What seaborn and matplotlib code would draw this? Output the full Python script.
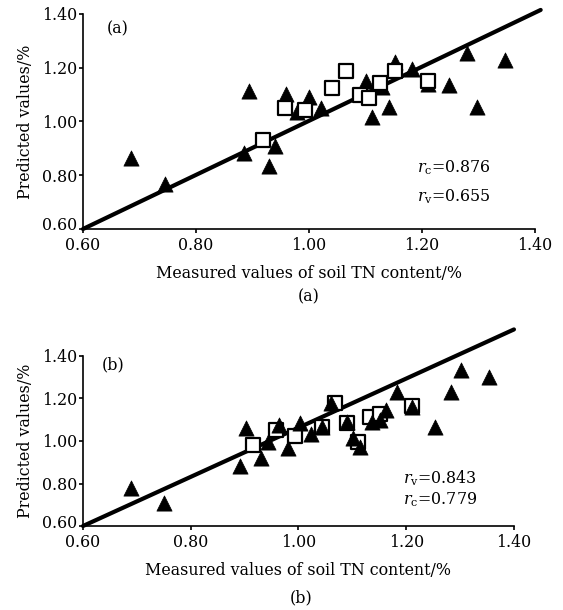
import matplotlib
matplotlib.use("Agg")
import matplotlib.pyplot as plt
import matplotlib.transforms as mtransforms
import seaborn as sns
import pandas as pd

# ---- data: panel (a) ----
a_cal_x = [0.685, 0.745, 0.885, 0.893, 0.93, 0.94, 0.96, 0.978, 1.0, 1.022, 1.10, 1.112,
           1.13, 1.142, 1.153, 1.182, 1.21, 1.248, 1.279, 1.298, 1.347]
a_cal_y = [0.863, 0.768, 0.884, 1.113, 0.833, 0.907, 1.103, 1.036, 1.092, 1.052, 1.15, 1.018,
           1.13, 1.055, 1.22, 1.195, 1.14, 1.136, 1.254, 1.055, 1.229]
a_val_x = [0.919, 0.957, 0.993, 1.041, 1.065, 1.09, 1.107, 1.126, 1.152, 1.21]
a_val_y = [0.931, 1.049, 1.043, 1.124, 1.189, 1.099, 1.086, 1.142, 1.189, 1.152]
a_line_x = [0.60, 1.41]
a_line_y = [0.60, 1.415]

# ---- data: panel (b) ----
b_cal_x = [0.69, 0.751, 0.891, 0.902, 0.931, 0.944, 0.964, 0.981, 1.003, 1.023, 1.043, 1.06,
           1.091, 1.101, 1.114, 1.136, 1.151, 1.163, 1.182, 1.211, 1.254, 1.283, 1.301, 1.354]
b_cal_y = [0.777, 0.707, 0.882, 1.06, 0.918, 0.997, 1.075, 0.966, 1.083, 1.033, 1.064, 1.177,
           1.091, 1.013, 0.973, 1.091, 1.099, 1.146, 1.232, 1.161, 1.067, 1.232, 1.334, 1.303]
b_val_x = [0.916, 0.958, 0.993, 1.043, 1.068, 1.091, 1.111, 1.132, 1.151, 1.211]
b_val_y = [0.981, 1.052, 1.024, 1.064, 1.177, 1.083, 0.997, 1.112, 1.127, 1.165]
b_line_x = [0.60, 1.40]
b_line_y = [0.60, 1.525]

ticks = [0.60, 0.80, 1.00, 1.20, 1.40]
tick_labels = ["0.60", "0.80", "1.00", "1.20", "1.40"]
xlabel = "Measured values of soil TN content/%"
ylabel = "Predicted values/%"

sns.set_style("ticks")
plt.rcParams["font.family"] = ["DejaVu Serif"]
plt.rcParams["mathtext.fontset"] = "dejavuserif"
plt.rcParams["text.color"] = "black"
plt.rcParams["axes.labelcolor"] = "black"
plt.rcParams["xtick.color"] = "black"
plt.rcParams["ytick.color"] = "black"

fig = plt.figure(figsize=(5.63, 6.10), dpi=100)
ax1 = fig.add_axes([0.1474, 0.6246, 0.8029, 0.3525])
ax2 = fig.add_axes([0.1474, 0.1377, 0.7655, 0.2787])

FS = 11.4

def style(ax):
    ax.set_xlim(0.6, 1.4)
    ax.set_ylim(0.6, 1.4)
    ax.set_xticks(ticks)
    ax.set_xticklabels(tick_labels)
    ax.set_yticks(ticks)
    ax.set_yticklabels(tick_labels)
    for s in ["top", "right"]:
        ax.spines[s].set_visible(False)
    for s in ["left", "bottom"]:
        ax.spines[s].set_linewidth(1.2)
        ax.spines[s].set_color("black")
    ax.tick_params(direction="out", length=3, width=1.2, labelsize=FS, colors="black")
    ax.tick_params(axis="x", pad=3)
    ax.tick_params(axis="y", pad=1)
    ax.set_xlabel(xlabel, fontsize=FS, labelpad=8, color="black")
    ax.set_ylabel(ylabel, fontsize=FS, labelpad=6, color="black")
    # lift the lowest y tick label a little, as in the reference
    lab = ax.get_yticklabels()[0]
    lab.set_transform(lab.get_transform() + mtransforms.ScaledTranslation(0, 5 / 100, fig.dpi_scale_trans))

# panel (a)
dfa_c = pd.DataFrame({"x": a_cal_x, "y": a_cal_y})
dfa_v = pd.DataFrame({"x": a_val_x, "y": a_val_y})
ax1.plot(a_line_x, a_line_y, color="black", lw=3, clip_on=False, zorder=1)
sns.scatterplot(data=dfa_c, x="x", y="y", ax=ax1, marker="^", s=120, color="black",
                edgecolor="black", linewidth=0.5, zorder=2, clip_on=False)
sns.scatterplot(data=dfa_v, x="x", y="y", ax=ax1, marker="s", s=90, facecolor="white",
                edgecolor="black", linewidth=1.6, zorder=3, clip_on=False)
style(ax1)
ax1.text(0.077, 0.93, "(a)", transform=ax1.transAxes, fontsize=FS, ha="center", va="center")
ax1.text(0.74, 0.284, r"$r_{\mathrm{c}}$=0.876", transform=ax1.transAxes, fontsize=FS,
         ha="left", va="center")
ax1.text(0.74, 0.149, r"$r_{\mathrm{v}}$=0.655", transform=ax1.transAxes, fontsize=FS,
         ha="left", va="center")
fig.text(0.549, 1 - 297 / 610, "(a)", fontsize=FS, ha="center", va="center")

# panel (b)
dfb_c = pd.DataFrame({"x": b_cal_x, "y": b_cal_y})
dfb_v = pd.DataFrame({"x": b_val_x, "y": b_val_y})
ax2.plot(b_line_x, b_line_y, color="black", lw=3, clip_on=False, zorder=1)
sns.scatterplot(data=dfb_v, x="x", y="y", ax=ax2, marker="s", s=90, facecolor="white",
                edgecolor="black", linewidth=1.6, zorder=2, clip_on=False)
sns.scatterplot(data=dfb_c, x="x", y="y", ax=ax2, marker="^", s=120, color="black",
                edgecolor="black", linewidth=0.5, zorder=3, clip_on=False)
style(ax2)
ax2.text(0.07, 0.947, "(b)", transform=ax2.transAxes, fontsize=FS, ha="center", va="center")
ax2.text(0.742, 0.282, r"$r_{\mathrm{v}}$=0.843", transform=ax2.transAxes, fontsize=FS,
         ha="left", va="center")
ax2.text(0.742, 0.153, r"$r_{\mathrm{c}}$=0.779", transform=ax2.transAxes, fontsize=FS,
         ha="left", va="center")
fig.text(0.534, 1 - 598 / 610, "(b)", fontsize=FS, ha="center", va="center")

fig.savefig("out.png", dpi=100, facecolor="white")
